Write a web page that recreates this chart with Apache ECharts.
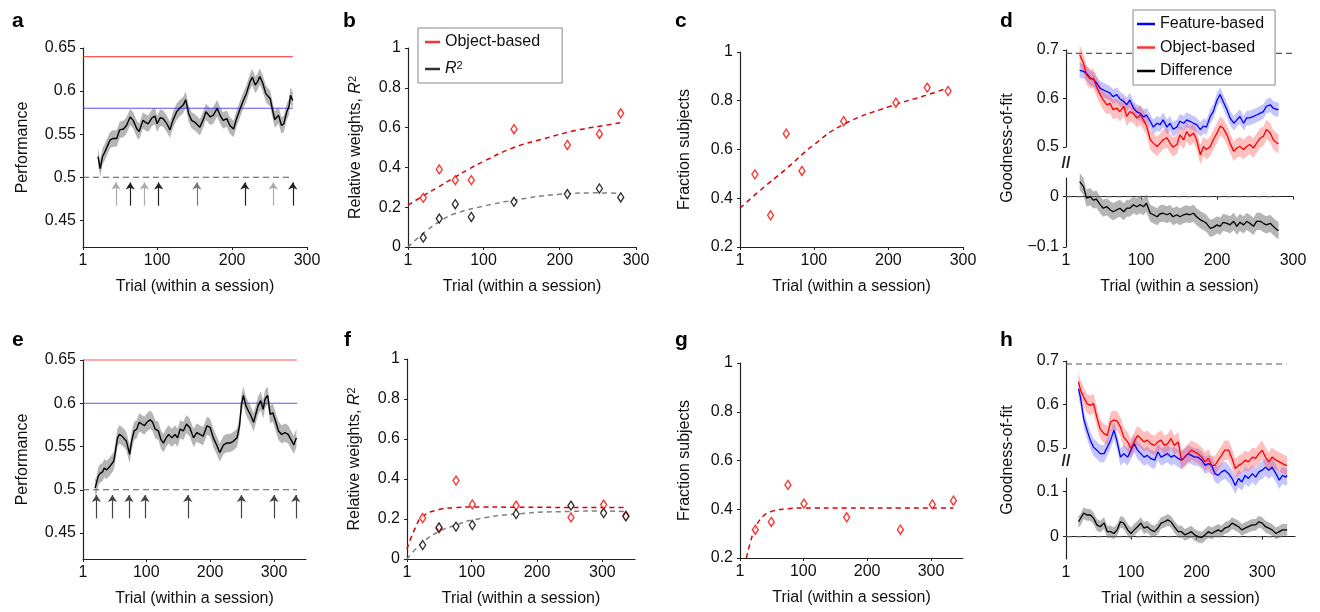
<!DOCTYPE html>
<html><head><meta charset="utf-8">
<script src="https://cdn.jsdelivr.net/npm/echarts@6/dist/echarts.min.js"></script>
<style>html,body{margin:0;padding:0;background:#fff}#c{width:1320px;height:612px}</style>
</head><body><div id="c"></div>
<script>
// ---------------- DATA ----------------
// Panel a
const trialsA = [21,24,27,30,35,37,41,46,50,55,59,64,68,73,76,81,84,88,93,97,100,104,108,113,117,121,126,130,135,138,142,146,150,157,162,165,171,175,180,184,188,193,197,202,206,211,215,219,224,227,231,234,237,241,245,251,254,257,262,266,269,273,276,278,281];
const perfA = [.524,.510,.524,.529,.539,.543,.545,.545,.555,.556,.560,.570,.566,.556,.553,.566,.564,.562,.569,.571,.562,.569,.568,.562,.555,.566,.576,.580,.584,.590,.574,.566,.564,.558,.568,.576,.570,.572,.580,.572,.566,.568,.560,.556,.568,.580,.589,.597,.611,.616,.607,.611,.617,.609,.597,.591,.578,.567,.572,.560,.562,.576,.582,.595,.589];
const semA = 0.0095;
const refA = {objectBased: 0.64, featureBased: 0.58, chance: 0.5, lastTrial: 281};
const arrowsA = [45, 64, 83, 102, 153, 217, 255, 281];
const arrowShadeA = ['#aaa', '#222', '#aaa', '#222', '#777', '#222', '#aaa', '#222'];
// Panel b
const trialsB = [21, 42, 63, 84, 140, 210, 252, 280];
const objWeightB = [.247, .390, .336, .336, .592, .513, .568, .672];
const r2B = [.047, .143, .215, .151, .227, .266, .294, .249];
const objFitB = [[1,.21],[20,.255],[40,.30],[60,.345],[80,.39],[100,.43],[140,.50],[180,.545],[220,.585],[250,.605],[280,.625]];
const r2FitB = [[1,0],[26,.084],[45,.134],[63,.168],[100,.205],[140,.235],[200,.265],[250,.272],[280,.269]];
// Panel c
const trialsC = [21, 42, 63, 84, 140, 210, 252, 280];
const fracC = [.498, .330, .665, .512, .716, .792, .854, .840];
const fracFitC = [[1,.36],[28,.432],[63,.521],[99,.617],[140,.703],[202,.777],[250,.822],[280,.853]];
// Panel d
const trialsD = [19,24,28,33,37,41,46,50,55,59,63,68,72,77,81,85,90,94,99,103,107,112,116,121,125,129,134,138,142,147,151,156,160,164,169,173,178,182,186,191,195,200,204,208,213,217,222,226,230,235,239,243,248,252,257,261,265,270,274,279,281];
const featD = [.658,.656,.652,.642,.640,.632,.621,.618,.614,.611,.604,.608,.599,.594,.587,.597,.580,.573,.569,.562,.566,.553,.541,.549,.546,.556,.541,.549,.537,.541,.553,.549,.556,.553,.549,.546,.536,.543,.541,.563,.573,.597,.608,.594,.577,.560,.549,.556,.563,.549,.560,.560,.563,.566,.570,.573,.584,.587,.580,.577,.578];
const objD = [.690,.673,.649,.640,.642,.625,.608,.597,.587,.590,.577,.580,.573,.584,.563,.573,.569,.560,.566,.556,.544,.515,.508,.501,.508,.515,.519,.508,.500,.505,.525,.515,.532,.522,.529,.515,.484,.501,.495,.501,.515,.529,.543,.539,.525,.508,.491,.498,.501,.495,.501,.505,.498,.508,.519,.522,.536,.529,.515,.508,.507];
const diffD = [.030,.020,-.003,.000,-.007,-.005,-.016,-.023,-.020,-.026,-.030,-.026,-.023,-.030,-.023,-.023,-.016,-.020,-.016,-.020,-.013,-.033,-.036,-.040,-.034,-.033,-.036,-.033,-.040,-.036,-.040,-.036,-.034,-.036,-.033,-.040,-.046,-.049,-.053,-.063,-.061,-.056,-.059,-.051,-.053,-.056,-.049,-.059,-.051,-.056,-.049,-.053,-.059,-.049,-.049,-.053,-.056,-.053,-.059,-.066,-.067];
const semD = {feat: 0.015, obj: 0.02, diff: 0.017};
const chanceFit = 0.693;
// Panel e
const trialsE = [20,22,25,28,32,34,38,43,49,51,55,58,62,65,69,74,77,81,85,89,93,97,101,106,110,114,119,123,127,131,135,140,145,149,153,158,163,168,174,179,184,189,195,200,205,210,215,221,226,231,236,242,246,249,252,256,260,263,268,272,275,279,283,286,290,294,298,302,307,312,317,322,328,331,335];
const perfE = [.502,.504,.516,.519,.521,.525,.523,.527,.533,.541,.560,.564,.562,.560,.556,.541,.556,.568,.570,.578,.576,.574,.578,.581,.578,.570,.568,.558,.554,.560,.564,.560,.564,.560,.570,.568,.576,.572,.560,.566,.564,.562,.574,.572,.560,.552,.543,.552,.554,.554,.556,.560,.574,.599,.609,.597,.591,.587,.578,.589,.597,.603,.593,.605,.609,.587,.589,.580,.568,.564,.566,.564,.556,.552,.560];
const semE = 0.0105;
const refE = {objectBased: 0.65, featureBased: 0.60, chance: 0.5, lastTrial: 336};
const arrowsE = [22, 47, 73, 98, 165, 249, 300, 334];
// Panel f
const trialsF = [25, 50, 76, 101, 168, 252, 302, 336];
const objWeightF = [.205, .153, .392, .273, .267, .208, .272, .217];
const r2F = [.070, .158, .162, .170, .225, .267, .230, .213];
const objFitF = [[1,.05],[14,.158],[25,.213],[50,.247],[76,.257],[101,.260],[168,.259],[252,.258],[336,.258]];
const r2FitF = [[1,0],[25,.083],[50,.137],[76,.170],[101,.195],[168,.225],[252,.238],[302,.240],[336,.237]];
// Panel g
const trialsG = [25, 50, 76, 101, 168, 252, 302, 335];
const fracG = [.316, .348, .500, .423, .367, .316, .420, .435];
const fracFitG = [[11,.2],[17,.262],[25,.323],[37,.371],[50,.391],[76,.402],[101,.405],[168,.405],[252,.405],[335,.405]];
// Panel h
const trialsH = [20,23,28,33,38,43,48,53,59,64,69,74,79,84,89,95,100,105,110,115,120,125,130,136,141,146,151,156,161,166,172,177,182,187,192,197,202,208,213,218,223,228,233,238,243,249,254,259,264,269,274,279,285,290,295,300,305,310,315,321,326,331,336,338];
const featH = [.636,.617,.567,.541,.518,.502,.495,.487,.487,.502,.518,.541,.514,.479,.487,.479,.495,.510,.495,.487,.479,.483,.476,.472,.491,.479,.483,.487,.479,.483,.476,.472,.479,.487,.483,.479,.479,.472,.460,.464,.460,.441,.437,.445,.449,.441,.430,.414,.430,.422,.437,.430,.441,.433,.445,.449,.456,.449,.456,.441,.426,.437,.433,.437];
const objH = [.652,.634,.617,.602,.598,.602,.571,.544,.533,.529,.560,.564,.562,.548,.525,.514,.499,.514,.529,.522,.514,.518,.510,.506,.514,.518,.506,.510,.522,.506,.514,.472,.479,.487,.495,.491,.487,.479,.468,.476,.460,.460,.472,.483,.495,.495,.476,.453,.460,.464,.472,.468,.479,.476,.487,.495,.479,.468,.479,.472,.468,.464,.460,.460];
const diffH = [.033,.037,.052,.048,.048,.041,.026,.022,.030,.011,.011,.007,.015,.033,.030,.015,.007,.015,.022,.030,.019,.022,.015,.011,.019,.030,.033,.037,.033,.022,.011,.011,.004,.007,.011,.004,.000,-.002,.004,.011,.007,.011,.015,.011,.019,.022,.030,.026,.022,.015,.019,.022,.026,.026,.033,.030,.022,.019,.015,.007,.011,.015,.015,.015];
const semH = {feat: 0.02, obj: 0.022, diff: 0.013};
const lastTrialD = 281, lastTrialH = 337;
const xTicksTop = [1, 100, 200, 300];
const xTicksBottom = [1, 100, 200, 300];
const panelLetters = ['a','b','c','d','e','f','g','h'];

// ---------------- STYLE / BUILD ----------------
const FONT = '"Liberation Sans", Arial, Helvetica, sans-serif';
const AX = '#222', TXT = '#111';
const RED = '#ff0000', BLUE = '#0000ff';
const zip = (t, v) => t.map((x, i) => [x, v[i]]);
const minusFmt = v => (v < 0 ? '\u2212' + String(Math.abs(v)) : String(v));

function xAxis(gi, max, ticks, show, name) {
  return {
    type: 'value', gridIndex: gi, min: 1, max: max, show: show,
    name: name ? 'Trial (within a session)' : '', nameLocation: 'middle', nameGap: 32,
    nameTextStyle: {fontSize: 16, color: TXT, fontFamily: FONT},
    axisLine: {lineStyle: {color: AX, width: 1.2}},
    axisTick: {show: true, length: 3, lineStyle: {color: AX}, customValues: ticks},
    axisLabel: {fontSize: 16, color: TXT, fontFamily: FONT, margin: 6, customValues: ticks},
    splitLine: {show: false}
  };
}
function yAxis(gi, min, max, ticks, name, gap) {
  return {
    type: 'value', gridIndex: gi, min: min, max: max,
    name: name || '', nameLocation: 'middle', nameGap: gap || 50,
    nameTextStyle: {fontSize: 16, color: TXT, fontFamily: FONT,
      rich: {i: {fontStyle: 'italic', fontSize: 16, fontFamily: FONT, color: TXT},
             s: {fontSize: 11, fontFamily: FONT, color: TXT, verticalAlign: 'top', padding: [0, 0, 6, 0]}}},
    axisLine: {show: true, lineStyle: {color: AX, width: 1.2}},
    axisTick: {show: true, length: 3, lineStyle: {color: AX}, customValues: ticks},
    axisLabel: {fontSize: 16, color: TXT, fontFamily: FONT, margin: 7, customValues: ticks, formatter: minusFmt},
    splitLine: {show: false}
  };
}
// shaded error band (mean +/- sem) drawn as one polygon through the axis scales
function band(gi, t, m, sem, color) {
  const data = t.map((x, i) => [x, m[i] - sem, m[i] + sem]);
  return {
    type: 'custom', xAxisIndex: gi, yAxisIndex: gi, silent: true, clip: false, z: 1,
    data: data, encode: {x: 0, y: [1, 2]},
    renderItem: function (params, api) {
      if (params.dataIndex !== 0) return null;
      const pts = [];
      for (let i = 0; i < data.length; i++) pts.push(api.coord([data[i][0], data[i][1]]));
      for (let i = data.length - 1; i >= 0; i--) pts.push(api.coord([data[i][0], data[i][2]]));
      return {type: 'polygon', shape: {points: pts}, style: {fill: color}};
    }
  };
}
function line(name, gi, data, color, width, dash, extra) {
  return Object.assign({type: 'line', name: name, xAxisIndex: gi, yAxisIndex: gi, data: data, symbol: 'none',
    clip: false, silent: true, lineStyle: {color: color, width: width || 1.3, type: dash || 'solid'}, z: 3}, extra || {});
}
function scatter(name, gi, data, color) {
  return {type: 'scatter', name: name, xAxisIndex: gi, yAxisIndex: gi, data: data, symbol: 'diamond', symbolSize: [6, 9],
    itemStyle: {color: '#fff', borderColor: color, borderWidth: 1.4}, z: 5, silent: true};
}
function arrowMark(ts, shades) {
  return {symbol: ['none', 'arrow'], symbolSize: 7, silent: true, label: {show: false}, animation: false,
    data: ts.map((t, i) => {
      const c = shades ? shades[i] : '#444';
      const ls = {color: c, width: 1.2, type: 'solid'};
      return [{coord: [t, 0.467], lineStyle: ls, itemStyle: {color: c}}, {coord: [t, 0.494], lineStyle: ls, itemStyle: {color: c}}];
    })};
}

const grids = [
  {left: 83, top: 48, width: 224, height: 199},    // 0 a
  {left: 408, top: 48, width: 228, height: 199},   // 1 b
  {left: 740, top: 52, width: 223, height: 195},   // 2 c
  {left: 1066, top: 50, width: 227, height: 97},   // 3 d upper
  {left: 1066, top: 178, width: 227, height: 69},  // 4 d lower
  {left: 83, top: 360, width: 223, height: 199},   // 5 e
  {left: 407, top: 359, width: 228, height: 200},  // 6 f
  {left: 740, top: 363, width: 223, height: 195},  // 7 g
  {left: 1066, top: 361, width: 229, height: 87},  // 8 h upper
  {left: 1066, top: 478, width: 229, height: 81}   // 9 h lower
];

const xAxes = [
  xAxis(0, 300, xTicksTop, true, true),
  xAxis(1, 300, xTicksTop, true, true),
  xAxis(2, 300, xTicksTop, true, true),
  xAxis(3, 300, xTicksTop, false, false),
  xAxis(4, 300, xTicksTop, true, true),
  xAxis(5, 350, xTicksBottom, true, true),
  xAxis(6, 350, xTicksBottom, true, true),
  xAxis(7, 350, xTicksBottom, true, true),
  xAxis(8, 350, xTicksBottom, false, false),
  xAxis(9, 350, xTicksBottom, true, true)
];
const yAxes = [
  yAxis(0, 0.419, 0.65, [0.45, 0.5, 0.55, 0.6, 0.65], 'Performance', 52),
  yAxis(1, 0, 1, [0, 0.2, 0.4, 0.6, 0.8, 1], 'Relative weights, {i|R}{s|2}', 44),
  yAxis(2, 0.2, 1, [0.2, 0.4, 0.6, 0.8, 1], 'Fraction subjects', 47),
  yAxis(3, 0.5, 0.7, [0.5, 0.6, 0.7]),
  yAxis(4, -0.1, 0.037, [-0.1, 0]),
  yAxis(5, 0.42, 0.65, [0.45, 0.5, 0.55, 0.6, 0.65], 'Performance', 52),
  yAxis(6, 0, 1, [0, 0.2, 0.4, 0.6, 0.8, 1], 'Relative weights, {i|R}{s|2}', 44),
  yAxis(7, 0.2, 1, [0.2, 0.4, 0.6, 0.8, 1], 'Fraction subjects', 47),
  yAxis(8, 0.5, 0.7, [0.5, 0.6, 0.7]),
  yAxis(9, -0.0496, 0.13, [0, 0.1])
];

const GRAYBAND = 'rgba(120,120,120,0.55)';
const BLUEBAND = 'rgba(80,80,255,0.33)';
const REDBAND = 'rgba(255,60,60,0.33)';
const series = [];
// a
series.push(band(0, trialsA, perfA, semA, GRAYBAND));
series.push(line('objA', 0, [[1, refA.objectBased], [refA.lastTrial, refA.objectBased]], 'rgba(255,40,40,0.8)', 1.1));
series.push(line('featA', 0, [[1, refA.featureBased], [refA.lastTrial, refA.featureBased]], 'rgba(40,40,255,0.8)', 1.1));
series.push(line('chanceA', 0, [[1, refA.chance], [refA.lastTrial, refA.chance]], '#555', 1.1, [6, 4],
  {markLine: arrowMark(arrowsA, arrowShadeA)}));
series.push(line('perfA', 0, zip(trialsA, perfA), '#000', 1.4));
// b
series.push(line('objFitB', 1, objFitB, '#dd0000', 1.5, [5, 4], {smooth: true}));
series.push(line('r2FitB', 1, r2FitB, '#808080', 1.5, [5, 4], {smooth: true}));
series.push(scatter('Object-based', 1, zip(trialsB, objWeightB), RED));
series.push(scatter('R2', 1, zip(trialsB, r2B), '#000'));
// c
series.push(line('fracFitC', 2, fracFitC, '#dd0000', 1.5, [5, 4], {smooth: true}));
series.push(scatter('fracC', 2, zip(trialsC, fracC), RED));
// d
series.push(band(3, trialsD, featD, semD.feat, BLUEBAND));
series.push(band(3, trialsD, objD, semD.obj, REDBAND));
series.push(line('chanceD', 3, [[1, chanceFit], [300, chanceFit]], '#555', 1.1, [6, 4], {z: 0}));
series.push(line('Feature-based', 3, zip(trialsD, featD), BLUE, 1.3));
series.push(line('Object-based', 3, zip(trialsD, objD), RED, 1.3));
series.push(band(4, trialsD, diffD, semD.diff, GRAYBAND));
series.push(line('zeroD', 4, [[1, 0], [lastTrialD, 0]], '#555', 1.1, [6, 4], {z: 2}));
series.push(line('Difference', 4, zip(trialsD, diffD), '#000', 1.3));
// e
series.push(band(5, trialsE, perfE, semE, GRAYBAND));
series.push(line('objE', 5, [[1, refE.objectBased], [refE.lastTrial, refE.objectBased]], 'rgba(255,40,40,0.8)', 1.1));
series.push(line('featE', 5, [[1, refE.featureBased], [refE.lastTrial, refE.featureBased]], 'rgba(40,40,255,0.8)', 1.1));
series.push(line('chanceE', 5, [[1, refE.chance], [refE.lastTrial, refE.chance]], '#555', 1.1, [6, 4],
  {markLine: arrowMark(arrowsE, null)}));
series.push(line('perfE', 5, zip(trialsE, perfE), '#000', 1.4));
// f
series.push(line('objFitF', 6, objFitF, '#dd0000', 1.5, [5, 4], {smooth: true}));
series.push(line('r2FitF', 6, r2FitF, '#808080', 1.5, [5, 4], {smooth: true}));
series.push(scatter('objF', 6, zip(trialsF, objWeightF), RED));
series.push(scatter('r2F', 6, zip(trialsF, r2F), '#000'));
// g
series.push(line('fracFitG', 7, fracFitG, '#dd0000', 1.5, [5, 4], {smooth: true, clip: true}));
series.push(scatter('fracG', 7, zip(trialsG, fracG), RED));
// h
series.push(band(8, trialsH, featH, semH.feat, BLUEBAND));
series.push(band(8, trialsH, objH, semH.obj, REDBAND));
series.push(line('chanceH', 8, [[1, chanceFit], [lastTrialH, chanceFit]], '#555', 1.1, [6, 4], {z: 0}));
series.push(line('featH', 8, zip(trialsH, featH), BLUE, 1.3));
series.push(line('objH', 8, zip(trialsH, objH), RED, 1.3));
series.push(band(9, trialsH, diffH, semH.diff, GRAYBAND));
series.push(line('zeroH', 9, [[1, 0], [lastTrialH, 0]], '#555', 1.1, [6, 4], {z: 2}));
series.push(line('diffH', 9, zip(trialsH, diffH), '#000', 1.3));

const letterPos = [[12, 11], [343, 11], [675, 11], [1000, 11], [12, 330], [344, 330], [675, 330], [1000, 330]];
const titles = panelLetters.map((l, i) => ({text: l, left: letterPos[i][0], top: letterPos[i][1], padding: 0,
  textStyle: {fontSize: 21, fontWeight: 'bold', color: '#000', fontFamily: FONT}}));

const legendText = {fontSize: 16, color: TXT, fontFamily: FONT, lineHeight: 18,
  rich: {i: {fontStyle: 'italic', fontSize: 16, fontFamily: FONT, color: TXT}, s: {fontSize: 11, fontFamily: FONT, color: TXT, verticalAlign: 'top', padding: [0, 0, 6, 0]}}};
const legends = [
  {orient: 'vertical', left: 418, top: 28, itemWidth: 15, itemHeight: 2.5, itemGap: 9, padding: [5, 22, 5, 7],
   borderColor: '#888', borderWidth: 1, backgroundColor: '#fff', selectedMode: false, textStyle: legendText,
   formatter: n => (n === 'R2' ? '{i|R}{s|2}' : n),
   data: [{name: 'Object-based', icon: 'rect', itemStyle: {color: RED, borderWidth: 0}},
          {name: 'R2', icon: 'rect', itemStyle: {color: '#000', borderWidth: 0}}]},
  {orient: 'vertical', left: 1133, top: 10, itemWidth: 18, itemHeight: 2.5, itemGap: 5.5, padding: [5, 11, 5, 4],
   borderColor: '#888', borderWidth: 1, backgroundColor: '#fff', selectedMode: false, textStyle: legendText, z: 10,
   data: [{name: 'Feature-based', icon: 'rect', itemStyle: {color: BLUE, borderWidth: 0}},
          {name: 'Object-based', icon: 'rect', itemStyle: {color: RED, borderWidth: 0}},
          {name: 'Difference', icon: 'rect', itemStyle: {color: '#000', borderWidth: 0}}]}
];

const graphics = [
  {type: 'text', x: 1008, y: 148, rotation: Math.PI / 2, style: {text: 'Goodness-of-fit', font: '16px ' + FONT, fill: TXT, align: 'center', verticalAlign: 'middle'}},
  {type: 'text', x: 1008, y: 460, rotation: Math.PI / 2, style: {text: 'Goodness-of-fit', font: '16px ' + FONT, fill: TXT, align: 'center', verticalAlign: 'middle'}},
  {type: 'text', x: 1066, y: 164, style: {text: '//', font: 'bold 16px ' + FONT, fill: '#222', align: 'center', verticalAlign: 'middle'}},
  {type: 'text', x: 1066, y: 462, style: {text: '//', font: 'bold 16px ' + FONT, fill: '#222', align: 'center', verticalAlign: 'middle'}}
];

const chart = echarts.init(document.getElementById('c'), null, {renderer: 'canvas'});
chart.setOption({
  animation: false,
  backgroundColor: '#fff',
  title: titles,
  legend: legends,
  grid: grids,
  xAxis: xAxes,
  yAxis: yAxes,
  series: series,
  graphic: graphics
});
</script></body></html>
